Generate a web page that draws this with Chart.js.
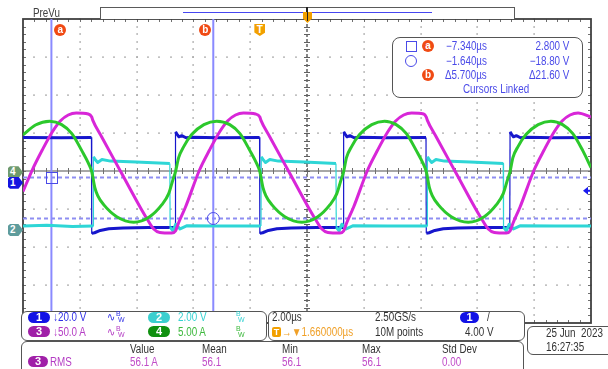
<!DOCTYPE html>
<html><head><meta charset="utf-8">
<script src="https://cdn.jsdelivr.net/npm/chart.js@4/dist/chart.umd.min.js"></script>
<style>
html,body{margin:0;padding:0;background:#fff;}
#wrap{position:relative;width:608px;height:369px;overflow:hidden;background:#fff;font-family:"Liberation Sans",Arial,sans-serif;font-size:12px;color:#333;}
canvas{position:absolute;left:0;top:0;}
.t{position:absolute;white-space:nowrap;line-height:12px;height:12px;transform:scaleX(0.82);transform-origin:0 50%;}
.r{transform-origin:100% 50%;}
.box{position:absolute;box-sizing:border-box;border:1px solid #555;border-radius:6px;background:#fff;}
.pill{position:absolute;box-sizing:border-box;width:22px;height:11px;border-radius:6px;color:#fff;text-align:center;line-height:11px;font-size:11px;font-weight:bold;}
.bw{position:absolute;font-size:7px;line-height:6px;white-space:nowrap;}
.badge{position:absolute;width:12px;height:12px;border-radius:50%;background:#f04a14;color:#fff;font:bold 10px/12px "Liberation Sans",sans-serif;text-align:center;}
.mk{position:absolute;width:15px;height:12px;color:#fff;font:bold 10px/12px "Liberation Sans",sans-serif;text-indent:2px;clip-path:polygon(0 15%,0 85%,2px 100%,70% 100%,100% 50%,70% 0,2px 0);}
</style></head><body><div id="wrap">
<canvas id="c" width="608" height="369"></canvas>

<!-- top record bar -->
<div class="t" style="left:33px;top:7px;color:#404040;">PreVu</div>
<div style="position:absolute;left:100px;top:7px;width:415px;height:12px;box-sizing:border-box;border:1px solid #5a5a5a;border-bottom:none;background:#fff;"></div>
<div style="position:absolute;left:183px;top:11.5px;width:249px;height:1.5px;background:#4646f0;"></div>
<div style="position:absolute;left:306px;top:7px;width:2px;height:14px;background:#222;"></div>
<div style="position:absolute;left:303px;top:12px;width:9px;height:11px;background:#f2a000;clip-path:polygon(0 0,100% 0,100% 60%,50% 100%,0 60%);"></div>
<div style="position:absolute;left:306.5px;top:11px;width:1.5px;height:10px;background:#222;"></div>

<!-- cursor readout -->
<div class="box" style="left:392px;top:37px;width:191px;height:61px;border-radius:8px;"></div>
<div style="position:absolute;left:406px;top:41px;width:9px;height:9px;border:1px solid #4a4ae8;"></div>
<div class="badge" style="left:422px;top:40px;">a</div>
<div class="t" style="left:446px;top:40px;color:#4a4ae8;">−7.340µs</div>
<div class="t r" style="right:39px;top:40px;color:#4a4ae8;">2.800 V</div>
<div style="position:absolute;left:405px;top:55px;width:10px;height:10px;border:1px solid #4a4ae8;border-radius:50%;"></div>
<div class="t" style="left:446px;top:55px;color:#4a4ae8;">−1.640µs</div>
<div class="t r" style="right:39px;top:55px;color:#4a4ae8;">−18.80 V</div>
<div class="badge" style="left:422px;top:69px;">b</div>
<div class="t" style="left:445px;top:69px;color:#4a4ae8;">Δ5.700µs</div>
<div class="t r" style="right:39px;top:69px;color:#4a4ae8;">Δ21.60 V</div>
<div class="t" style="left:463px;top:83px;color:#4a4ae8;">Cursors Linked</div>

<!-- channel panel -->
<div class="box" style="left:21px;top:311px;width:246px;height:30px;"></div>
<div class="pill" style="left:28px;top:312px;background:#1212e6;">1</div>
<div class="t" style="left:53px;top:311px;color:#3030e6;">↓20.0 V</div>
<div class="t" style="left:107px;top:311px;color:#3030e6;">∿</div><div class="bw" style="left:116px;top:311px;color:#3030e6;">B<br>&nbsp;W</div>
<div class="pill" style="left:148px;top:312px;background:#3ccfcf;">2</div>
<div class="t" style="left:178px;top:311px;color:#35d2d2;">2.00 V</div>
<div class="bw" style="left:236px;top:311px;color:#35d2d2;">B<br>&nbsp;W</div>
<div class="pill" style="left:28px;top:326px;background:#a020a8;">3</div>
<div class="t" style="left:53px;top:326px;color:#b43cc4;">↓50.0 A</div>
<div class="t" style="left:107px;top:326px;color:#b43cc4;">∿</div><div class="bw" style="left:116px;top:326px;color:#b43cc4;">B<br>&nbsp;W</div>
<div class="pill" style="left:148px;top:326px;background:#109010;">4</div>
<div class="t" style="left:178px;top:326px;color:#3cb83c;">5.00 A</div>
<div class="bw" style="left:236px;top:326px;color:#3cb83c;">B<br>&nbsp;W</div>

<!-- timebase panel -->
<div class="box" style="left:268px;top:311px;width:257px;height:30px;"></div>
<div class="t" style="left:272px;top:311px;">2.00µs</div>
<div style="position:absolute;left:272px;top:327px;width:9px;height:10px;border-radius:2px;background:#f2a000;color:#fff;font:bold 9px/10px 'Liberation Sans',sans-serif;text-align:center;">T</div>
<div class="t" style="left:282px;top:326px;color:#f0a028;">→▼1.660000µs</div>
<div class="t" style="left:375px;top:311px;">2.50GS/s</div>
<div class="t" style="left:375px;top:326px;">10M points</div>
<div class="pill" style="left:460px;top:312px;width:19px;background:#1212e6;">1</div>
<div class="t" style="left:487px;top:311px;">/</div>
<div class="t" style="left:465px;top:326px;">4.00 V</div>

<!-- date panel -->
<div class="box" style="left:527px;top:326px;width:100px;height:29px;"></div>
<div class="t" style="left:546px;top:327px;">25 Jun&nbsp; 2023</div>
<div class="t" style="left:546px;top:341px;">16:27:35</div>

<!-- measurement panel -->
<div class="box" style="left:21px;top:341px;width:503px;height:40px;"></div>
<div class="t" style="left:130px;top:343px;">Value</div>
<div class="t" style="left:202px;top:343px;">Mean</div>
<div class="t" style="left:282px;top:343px;">Min</div>
<div class="t" style="left:362px;top:343px;">Max</div>
<div class="t" style="left:442px;top:343px;">Std Dev</div>
<div class="pill" style="left:28px;top:356px;width:20px;background:#a020a8;">3</div>
<div class="t" style="left:50px;top:356px;color:#b43cc4;">RMS</div>
<div class="t" style="left:130px;top:356px;color:#c04cc8;">56.1 A</div>
<div class="t" style="left:202px;top:356px;color:#c04cc8;">56.1</div>
<div class="t" style="left:282px;top:356px;color:#c04cc8;">56.1</div>
<div class="t" style="left:362px;top:356px;color:#c04cc8;">56.1</div>
<div class="t" style="left:442px;top:356px;color:#c04cc8;">0.00</div>

<!-- dynamic markers (positioned from scales) -->
<div class="badge" id="badgeA">a</div>
<div class="badge" id="badgeB">b</div>
<div id="badgeT" style="position:absolute;width:11px;height:12px;background:#f2a000;color:#fff;font:bold 10px/11px 'Liberation Sans',sans-serif;text-align:center;clip-path:polygon(0 0,100% 0,100% 70%,50% 100%,0 70%);">T</div>
<div class="mk" id="mk4" style="background:#6e9a6e;">4</div>
<div class="mk" id="mk1" style="background:#1414e0;">1</div>
<div class="mk" id="mk2" style="background:#5e9c9c;">2</div>
</div>
<script>
// ---------------- scope settings ----------------
const TIME_PER_DIV = 2;           // µs/div
const X_MIN = -8.34, X_MAX = 11.66; // µs relative to trigger
const ch1Scale = 20, ch1Pos = -0.31;  // V/div, ground position in divisions
const ch2Scale = 2,  ch2Pos = -1.55;
const ch3Scale = 50, ch3Pos = 0.0;
const ch4Scale = 5,  ch4Pos = -0.03;
const cursorTimes = [-7.34, -1.64]; // µs
const cursorVolts = [2.8, -18.8];   // V (ch1)
const trigArrowV = -4.2;

// ---------------- ch1 (blue, V) ----------------
const ch1Time = [-8.34,-7.0,-5.93,-5.92,-5.82,-5.62,-5.32,-4.82,-3.92,-2.98,-2.97,-2.92,-2.85,-2.75,-2.60,-2.37,-1.47,-0.01,
  0.0,0.10,0.30,0.60,1.10,2.00,2.94,2.95,3.00,3.07,3.17,3.32,3.55,4.45,5.85,
  5.86,5.96,6.16,6.46,6.96,7.86,8.80,8.81,8.86,8.93,9.03,9.18,9.41,10.31,11.66];
const ch1Volts = [23.8,23.7,23.8,-26.6,-26.3,-25.1,-24.2,-23.8,-23.6,-23.5,26.8,25.6,24.2,24.8,23.7,24.0,23.7,23.8,
  -26.6,-26.3,-25.1,-24.2,-23.8,-23.6,-23.5,26.8,25.6,24.2,24.8,23.7,24.0,23.7,23.8,
  -26.6,-26.3,-25.1,-24.2,-23.8,-23.6,-23.5,26.8,25.6,24.2,24.8,23.7,24.0,23.7,23.8];

// ---------------- ch2 (cyan, V) ----------------
const ch2Time = [-8.34,-7.5,-6.6,-5.87,-5.86,-5.80,-5.71,-5.56,-5.26,-4.36,-3.17,-3.16,-3.06,-2.96,-2.81,-2.56,-1.5,0.04,
  0.05,0.11,0.20,0.35,0.65,1.55,2.68,2.69,2.79,2.89,3.04,3.29,4.5,5.89,
  5.90,5.96,6.05,6.20,6.50,7.40,8.57,8.58,8.68,8.78,8.93,9.18,10.4,11.66];
const ch2Volts = [0.2,0.25,0.18,0.2,3.85,3.70,3.55,3.70,3.62,3.58,3.50,0.15,-0.05,0.3,0.05,0.22,0.2,0.2,
  3.85,3.70,3.55,3.70,3.62,3.58,3.50,0.15,-0.05,0.3,0.05,0.22,0.2,0.2,
  3.85,3.70,3.55,3.70,3.62,3.58,3.50,0.15,-0.05,0.3,0.05,0.22,0.2,0.2];

// ---------------- ch3 (magenta, A) ----------------
const ch3Time = [-8.34,-8.015,-7.662,-7.31,-7.028,-6.747,-6.465,-6.042,-5.92,
  -5.885,-5.568,-4.863,-4.159,-3.948,-3.736,-3.525,-3.102,-2.97,
  -2.864,-2.618,-2.125,-1.772,-1.42,-1.138,-0.857,-0.575,-0.152,0.0,
  0.035,0.352,1.057,1.761,1.972,2.184,2.395,2.818,2.95,
  3.056,3.302,3.795,4.148,4.50,4.782,5.063,5.345,5.768,5.86,
  5.895,6.212,6.917,7.621,7.832,8.044,8.255,8.678,8.81,
  8.916,9.162,9.655,10.008,10.36,10.642,10.923,11.205,11.66];
const ch3Amps = [-27.0,1.3,27.6,51.3,65.8,73.7,76.3,75.0,71.0,
  67.0,44.7,-3.3,-51.3,-64.5,-76.3,-80.9,-81.6,-78.9,
  -68.4,-47.4,1.3,27.6,51.3,65.8,73.7,76.3,75.0,71.0,
  67.0,44.7,-3.3,-51.3,-64.5,-76.3,-80.9,-81.6,-78.9,
  -68.4,-47.4,1.3,27.6,51.3,65.8,73.7,76.3,75.0,71.0,
  67.0,44.7,-3.3,-51.3,-64.5,-76.3,-80.9,-81.6,-78.9,
  -68.4,-47.4,1.3,27.6,51.3,65.8,73.7,76.3,71.0];

// ---------------- ch4 (green, A) ----------------
const ch4Time = [-8.34,-7.90,-7.40,-6.98,-6.62,-6.27,-6.03,-5.92,-5.81,-5.71,-5.50,-5.04,-4.44,-3.88,-3.45,-3.21,-3.07,-2.97,
  -2.86,-2.68,-2.40,-1.97,-1.52,-1.06,-0.70,-0.35,-0.11,0.0,0.11,0.21,0.42,0.88,1.48,2.04,2.47,2.71,2.85,2.95,
  3.05,3.23,3.51,3.94,4.39,4.80,5.16,5.51,5.75,5.86,5.97,6.07,6.28,6.74,7.34,7.90,8.33,8.57,8.71,8.81,
  8.91,9.09,9.37,9.80,10.25,10.66,11.02,11.37,11.66];
const ch4Amps = [4.9,6.2,6.7,6.25,5.07,2.83,1.12,0.07,-2.04,-3.09,-4.28,-5.86,-6.58,-5.86,-4.28,-2.83,-1.12,0.07,
  1.91,3.36,4.94,6.25,6.71,6.25,5.07,2.83,1.12,0.07,-2.04,-3.09,-4.28,-5.86,-6.58,-5.86,-4.28,-2.83,-1.12,0.07,
  1.91,3.36,4.94,6.25,6.71,6.25,5.07,2.83,1.12,0.07,-2.04,-3.09,-4.28,-5.86,-6.58,-5.86,-4.28,-2.83,-1.12,0.07,
  1.91,3.36,4.94,6.25,6.71,6.25,5.07,2.83,0.6];

// ---------------- build ----------------
const pts = (t, v) => t.map((x, i) => ({x, y: v[i]}));
const axisFor = (scale, pos) => ({type:'linear', axis:'y', display:false, min:(-4 - pos) * scale, max:(4 - pos) * scale});
const thinEdge = (w) => ({borderWidth: c => Math.abs(c.p1.parsed.x - c.p0.parsed.x) < 0.02 ? 1.2 : w});

const graticule = {
  id:'graticule',
  beforeDatasetsDraw(chart){
    const {ctx, chartArea:a, scales} = chart;
    const xs = scales.x, ds = scales.div;
    const xMaj = [], yMaj = [];
    for (let i = 0; i <= 10; i++) xMaj.push(xs.getPixelForValue(X_MIN + i * TIME_PER_DIV));
    for (let j = 0; j <= 8; j++) yMaj.push(ds.getPixelForValue(4 - j));
    const dxm = (xMaj[1] - xMaj[0]) / 5, dym = (yMaj[1] - yMaj[0]) / 5;
    ctx.save();
    ctx.fillStyle = '#a8a8a8';
    for (let i = 1; i < 10; i++) {
      if (i === 5) continue;
      for (let k = 0; k <= 40; k++) ctx.fillRect(Math.round(xMaj[i]) - 0.5, Math.round(a.top + k * dym) - 1, 1.2, 2);
    }
    for (let j = 1; j < 8; j++) {
      if (j === 4) continue;
      for (let k = 0; k <= 50; k++) ctx.fillRect(Math.round(a.left + k * dxm) - 1, Math.round(yMaj[j]) - 0.5, 2, 1.2);
    }
    const cy = yMaj[4], cx = xMaj[5];
    ctx.strokeStyle = '#8a8a8a'; ctx.lineWidth = 1.5;
    ctx.beginPath(); ctx.moveTo(a.left, cy); ctx.lineTo(a.right, cy); ctx.stroke();
    ctx.strokeStyle = '#707070'; ctx.lineWidth = 1;
    for (let k = 1; k < 50; k++) { const x = Math.round(a.left + k * dxm) + 0.5; ctx.beginPath(); ctx.moveTo(x, cy - 3); ctx.lineTo(x, cy + 3); ctx.stroke(); }
    ctx.strokeStyle = '#606060'; ctx.lineWidth = 1.5; ctx.setLineDash([3, 2]);
    ctx.beginPath(); ctx.moveTo(cx, a.top); ctx.lineTo(cx, a.bottom); ctx.stroke(); ctx.setLineDash([]);
    ctx.lineWidth = 1;
    for (let k = 1; k < 40; k++) { const y = Math.round(a.top + k * dym) + 0.5; ctx.beginPath(); ctx.moveTo(cx - 3, y); ctx.lineTo(cx + 3, y); ctx.stroke(); }
    ctx.strokeStyle = '#707070';
    for (let k = 1; k < 50; k++) {
      const x = Math.round(a.left + k * dxm) + 0.5;
      ctx.beginPath(); ctx.moveTo(x, a.top); ctx.lineTo(x, a.top + 3); ctx.moveTo(x, a.bottom); ctx.lineTo(x, a.bottom - 3); ctx.stroke();
    }
    for (let k = 1; k < 40; k++) {
      const y = Math.round(a.top + k * dym) + 0.5;
      ctx.beginPath(); ctx.moveTo(a.left, y); ctx.lineTo(a.left + 3, y); ctx.moveTo(a.right, y); ctx.lineTo(a.right - 3, y); ctx.stroke();
    }
    ctx.strokeStyle = '#404040'; ctx.lineWidth = 1.8;
    ctx.strokeRect(a.left, a.top, a.right - a.left, a.bottom - a.top);
    const y1 = scales.y1;
    ctx.strokeStyle = '#8e8ef2'; ctx.lineWidth = 2; ctx.setLineDash([4, 3]);
    cursorVolts.forEach(v => { const py = y1.getPixelForValue(v); ctx.beginPath(); ctx.moveTo(a.left, py); ctx.lineTo(a.right, py); ctx.stroke(); });
    ctx.setLineDash([]); ctx.strokeStyle = '#8a8aff'; ctx.lineWidth = 2;
    cursorTimes.forEach(t => { const px = xs.getPixelForValue(t); ctx.beginPath(); ctx.moveTo(px, a.top); ctx.lineTo(px, a.bottom); ctx.stroke(); });
    ctx.restore();
  },
  afterDraw(chart){
    const {ctx, chartArea:a, scales} = chart;
    const xs = scales.x, y1 = scales.y1;
    ctx.save();
    const ax = xs.getPixelForValue(cursorTimes[0]), ay = y1.getPixelForValue(cursorVolts[0]);
    const bx = xs.getPixelForValue(cursorTimes[1]), by = y1.getPixelForValue(cursorVolts[1]);
    ctx.strokeStyle = '#4a4ae8'; ctx.lineWidth = 1;
    ctx.strokeRect(Math.round(ax - 5.5) + 0.5, Math.round(ay - 5.5) + 0.5, 11, 11);
    ctx.beginPath(); ctx.arc(bx, by, 6, 0, Math.PI * 2); ctx.stroke();
    const ty = y1.getPixelForValue(trigArrowV);
    ctx.fillStyle = '#1a1aee';
    ctx.beginPath(); ctx.moveTo(a.right - 8, ty); ctx.lineTo(a.right - 3, ty - 4); ctx.lineTo(a.right - 3, ty + 4); ctx.closePath(); ctx.fill();
    ctx.fillRect(a.right - 4, ty - 1, 3, 2);
    ctx.restore();
    const place = (id, l, t) => { const e = document.getElementById(id); e.style.left = l + 'px'; e.style.top = t + 'px'; };
    place('badgeA', ax + 3, a.top + 5);
    place('badgeB', bx - 14, a.top + 5);
    place('badgeT', xs.getPixelForValue(0) - 5.5, a.top + 5);
    place('mk4', a.left - 15, scales.y4.getPixelForValue(0) - 6);
    place('mk1', a.left - 15, scales.y1.getPixelForValue(0) - 6);
    place('mk2', a.left - 15, scales.y2.getPixelForValue(0) - 6);
  }
};

new Chart(document.getElementById('c'), {
  type: 'line',
  data: { datasets: [
    { label:'Ch4', data: pts(ch4Time, ch4Amps), yAxisID:'y4', borderColor:'#2cc82c', borderWidth:3, cubicInterpolationMode:'monotone', segment: thinEdge(3) },
    { label:'Ch3', data: pts(ch3Time, ch3Amps), yAxisID:'y3', borderColor:'#d826d8', borderWidth:3, cubicInterpolationMode:'monotone' },
    { label:'Ch2', data: pts(ch2Time, ch2Volts), yAxisID:'y2', borderColor:'#2ed6d6', borderWidth:3, segment: thinEdge(3) },
    { label:'Ch1', data: pts(ch1Time, ch1Volts), yAxisID:'y1', borderColor:'#1616cc', borderWidth:3, segment: thinEdge(3) }
  ]},
  options: {
    responsive:false, animation:false, events:[],
    layout:{ padding:{ left:23, top:19, right:17, bottom:46 } },
    plugins:{ legend:{display:false}, tooltip:{enabled:false} },
    elements:{ point:{radius:0}, line:{borderJoinStyle:'round', borderCapStyle:'butt', fill:false} },
    scales:{
      x:{ type:'linear', min:X_MIN, max:X_MAX, display:false },
      div:{ type:'linear', axis:'y', min:-4, max:4, display:false },
      y1: axisFor(ch1Scale, ch1Pos),
      y2: axisFor(ch2Scale, ch2Pos),
      y3: axisFor(ch3Scale, ch3Pos),
      y4: axisFor(ch4Scale, ch4Pos)
    }
  },
  plugins:[graticule]
});
</script>
</body></html>
